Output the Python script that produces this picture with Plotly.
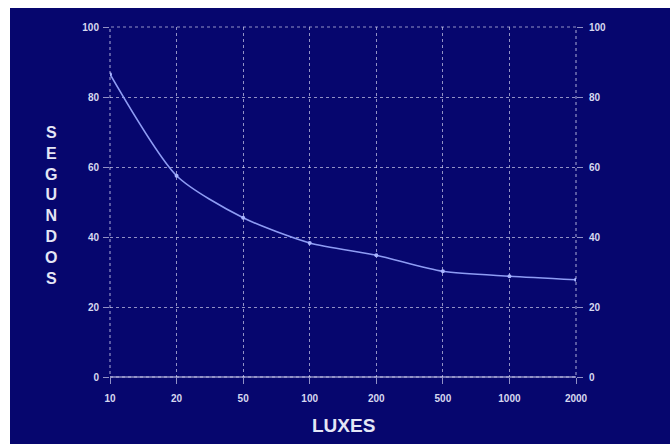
import plotly.graph_objects as go

luxes = ["10", "20", "50", "100", "200", "500", "1000", "2000"]
segundos = [86.5, 57.5, 45.5, 38.3, 34.8, 30.2, 28.8, 27.8]
y_ticks = [0, 20, 40, 60, 80, 100]

W, H = 670, 444
L, R, T, B = 110, 94, 27, 67
NAVY = "#06066e"
GRID = "rgba(220,220,245,0.65)"
TXT = "#d6d8f0"
TICKFONT = dict(size=10, color=TXT, family="Liberation Sans, Arial", weight="bold")

fig = go.Figure()
fig.add_trace(go.Scatter(
    x=luxes, y=segundos, mode="lines+markers",
    line=dict(color="#8e9cf4", width=1.6, shape="spline", smoothing=0.7),
    marker=dict(size=4, color="#a8b4ff"),
    showlegend=False, hoverinfo="x+y"))
fig.add_trace(go.Scatter(
    x=luxes, y=segundos, yaxis="y2", mode="lines",
    line=dict(color="rgba(0,0,0,0)"), showlegend=False, hoverinfo="skip"))

pw, ph = W - L - R, H - T - B
def px_x(p):
    return (p - L) / pw
def px_y(p):
    return 1 - (p - T) / ph

fig.update_layout(
    width=W, height=H,
    margin=dict(l=L, r=R, t=T, b=B),
    paper_bgcolor=NAVY, plot_bgcolor=NAVY,
    font=dict(family="Liberation Sans, Arial, sans-serif", color=TXT),
    xaxis=dict(type="category", range=[0, 7], showgrid=True, gridcolor=GRID,
               griddash="dot", gridwidth=1, zeroline=False, showline=False,
               ticks="outside", ticklen=6, tickcolor=GRID,
               tickfont=TICKFONT, ticklabelstandoff=6),
    yaxis=dict(range=[0, 100], tickvals=y_ticks, showgrid=True, gridcolor=GRID,
               griddash="dot", gridwidth=1, zeroline=False, showline=False,
               ticks="outside", ticklen=6, tickcolor=GRID,
               tickfont=TICKFONT, ticklabelstandoff=2),
    yaxis2=dict(range=[0, 100], tickvals=y_ticks, overlaying="y", side="right",
                showgrid=False, zeroline=False, showline=False,
                ticks="outside", ticklen=6, tickcolor=GRID,
                tickfont=TICKFONT, ticklabelstandoff=4),
    shapes=[
        dict(type="rect", xref="paper", yref="paper", layer="below",
             x0=0, x1=1, y0=0, y1=1,
             line=dict(color=GRID, width=1.2, dash="dot")),
        dict(type="line", xref="paper", yref="paper", layer="below",
             x0=0, x1=1, y0=0, y1=0,
             line=dict(color=GRID, width=1.5)),
        dict(type="rect", xref="paper", yref="paper", layer="above",
             x0=px_x(-5), x1=px_x(10), y0=px_y(H + 5), y1=px_y(-5),
             fillcolor="white", line=dict(width=0)),
        dict(type="rect", xref="paper", yref="paper", layer="above",
             x0=px_x(-5), x1=px_x(W + 5), y0=px_y(8), y1=px_y(-5),
             fillcolor="white", line=dict(width=0)),
    ],
    annotations=[
        dict(text="<b>S<br>E<br>G<br>U<br>N<br>D<br>O<br>S</b>", xref="paper", yref="paper",
             x=px_x(51), y=px_y(205), showarrow=False, align="center",
             font=dict(size=16, color="#e4e6f6", family="Liberation Sans, Arial"),
             xanchor="center", yanchor="middle"),
        dict(text="<b>LUXES</b>", xref="paper", yref="paper",
             x=px_x(343), y=px_y(425), showarrow=False,
             font=dict(size=19, color="#e4e6f6", family="Liberation Sans, Arial"),
             xanchor="center", yanchor="middle"),
    ],
)
fig.write_html("out.html")
